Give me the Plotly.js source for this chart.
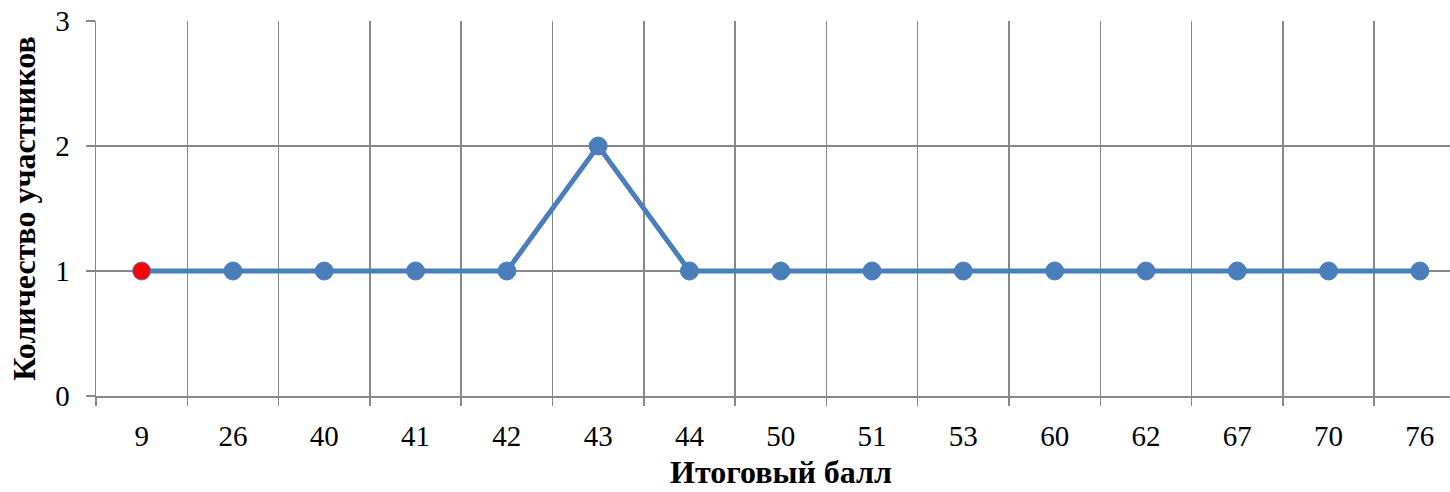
<!DOCTYPE html>
<html>
<head>
<meta charset="utf-8">
<script src="https://cdn.plot.ly/plotly-3.0.1.min.js"></script>
<style>html,body{margin:0;padding:0;background:#fff;overflow:hidden}</style>
</head>
<body>
<div id="chart" style="width:1450px;height:492px"></div>
<script>
const scores = ["9","26","40","41","42","43","44","50","51","53","60","62","67","70","76"];
const counts = [1,1,1,1,1,2,1,1,1,1,1,1,1,1,1];
const markerColors = ["#ff0000","#4a7ebb","#4a7ebb","#4a7ebb","#4a7ebb","#4a7ebb","#4a7ebb","#4a7ebb","#4a7ebb","#4a7ebb","#4a7ebb","#4a7ebb","#4a7ebb","#4a7ebb","#4a7ebb"];
const xTitle = "Итоговый балл";
const yTitle = "Количество участников";
const yTicks = [0,1,2,3];

const font = "'Liberation Serif', 'Times New Roman', serif";

Plotly.newPlot("chart", [{
  type: "scatter",
  mode: "lines+markers",
  x: scores,
  y: counts,
  line: {color: "#4a7ebb", width: 5},
  marker: {size: 18, color: markerColors, line: {color: "#4a7ebb", width: 1}},
  hoverinfo: "skip"
}], {
  width: 1450,
  height: 492,
  margin: {l: 96, r: 0, t: 21, b: 96},
  paper_bgcolor: "#fff",
  plot_bgcolor: "#fff",
  showlegend: false,
  xaxis: {
    type: "category",
    range: [-0.5, 14.33],
    tickson: "boundaries",
    ticks: "outside",
    ticklen: 8,
    tickcolor: "#888",
    tickwidth: 1.5,
    showgrid: true,
    gridcolor: "#888",
    gridwidth: 1.5,
    showline: true,
    linecolor: "#888",
    linewidth: 1.5,
    zeroline: false,
    ticklabelstandoff: 14,
    tickfont: {family: font, size: 29, color: "#000"},
    fixedrange: true
  },
  yaxis: {
    range: [0, 3],
    tickvals: yTicks,
    ticktext: yTicks.map(String),
    ticks: "outside",
    ticklen: 9,
    tickcolor: "#888",
    tickwidth: 1.5,
    showgrid: true,
    gridcolor: "#888",
    gridwidth: 1.5,
    showline: true,
    linecolor: "#888",
    linewidth: 1.5,
    zeroline: false,
    ticklabelstandoff: 10,
    tickfont: {family: font, size: 29, color: "#000"},
    title: {text: yTitle, font: {family: font, size: 32, color: "#000", weight: "bold"}, standoff: 10},
    fixedrange: true
  },
  annotations: [{
    text: "<b>" + xTitle + "</b>",
    xref: "paper", yref: "paper",
    x: (781 - 96) / (1450 - 96), y: 0,
    yshift: -76,
    xanchor: "center", yanchor: "middle",
    borderpad: 0,
    showarrow: false,
    font: {family: font, size: 32, color: "#000"}
  }]
}, {displayModeBar: false, staticPlot: true});
</script>
</body>
</html>
